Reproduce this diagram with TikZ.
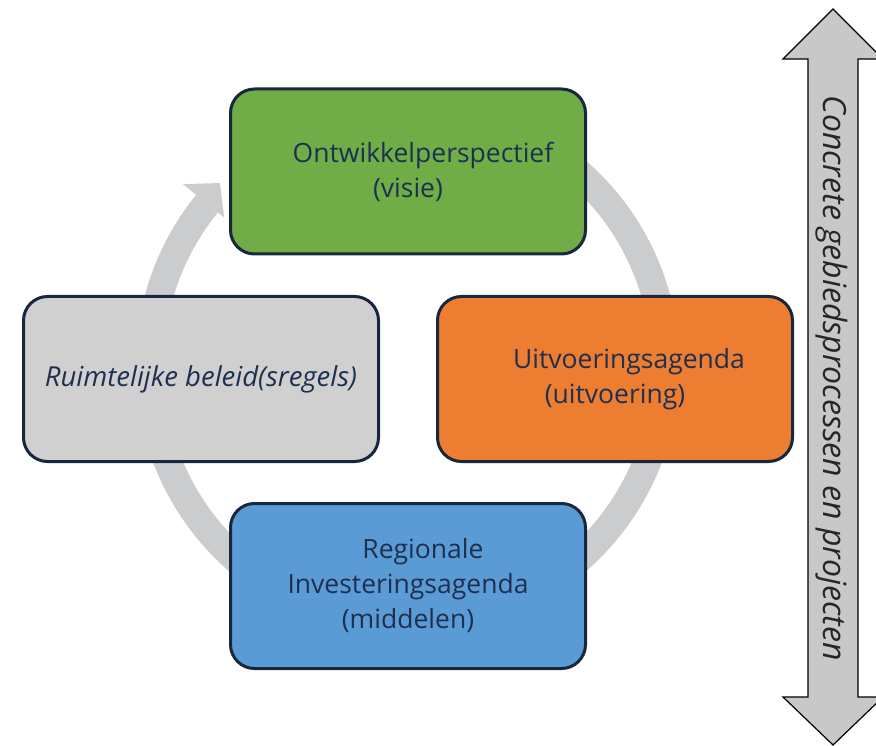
\documentclass[tikz,border=0pt]{standalone}
\usepackage{fontspec}
\setmainfont{Open Sans}
\usetikzlibrary{calc}
\definecolor{ringgray}{RGB}{203,204,206}
\definecolor{navy}{RGB}{24,38,62}
\definecolor{txt}{RGB}{30,48,80}
\definecolor{boxgreen}{RGB}{112,173,71}
\definecolor{boxorange}{RGB}{237,125,49}
\definecolor{boxblue}{RGB}{91,155,213}
\definecolor{boxgray}{RGB}{208,208,208}
\definecolor{arrowgray}{RGB}{200,200,200}
\begin{document}
\begin{tikzpicture}[x=1pt,y=1pt,
  cyclebox/.style={draw=navy, line width=3pt, rounded corners=24pt, minimum width=355pt, minimum height=165pt, align=center, text=txt, font=\fontsize{26.5}{35}\selectfont, inner sep=0pt}]
\path[use as bounding box] (0,0) rectangle (876,-746);
\coordinate (C) at (407.5,-366);
\fill[ringgray] ($(C)+(141:244pt)$) arc[start angle=141, end angle=451, radius=244pt] -- ($(C)+(451:272pt)$) arc[start angle=451, end angle=141, radius=272pt] -- cycle;
\fill[ringgray] ($(C)+(141:236pt)$) -- ($(C)+(141:289pt)$) -- ($(C)+(135.7:262pt)$) -- cycle;
\node[cyclebox, fill=boxgreen] (vis) at (408,-171.5) {\hspace*{30pt}Ontwikkelperspectief\\(visie)};
\node[cyclebox, fill=boxgray, font=\fontsize{27.5}{35}\selectfont\itshape] (bel) at (201,-379) {Ruimtelijke beleid(sregels)};
\node[cyclebox, fill=boxorange] (uit) at (615,-379) {\hspace*{28pt}Uitvoeringsagenda\\(uitvoering)};
\node[cyclebox, fill=boxblue] (inv) at (408,-586) {\hspace*{30pt}Regionale\\Investeringsagenda\\(middelen)};
\draw[fill=arrowgray, draw=black, line width=1.2pt, line join=miter] (833,-9) -- (883,-59) -- (858,-59) -- (858,-697) -- (883,-697) -- (833,-745) -- (783,-697) -- (808,-697) -- (808,-59) -- (783,-59) -- cycle;
\node[rotate=-90, font=\fontsize{32}{36}\selectfont\itshape, text=black!85] (conc) at (832,-378) {Concrete gebiedsprocessen en projecten};
\end{tikzpicture}
\end{document}
